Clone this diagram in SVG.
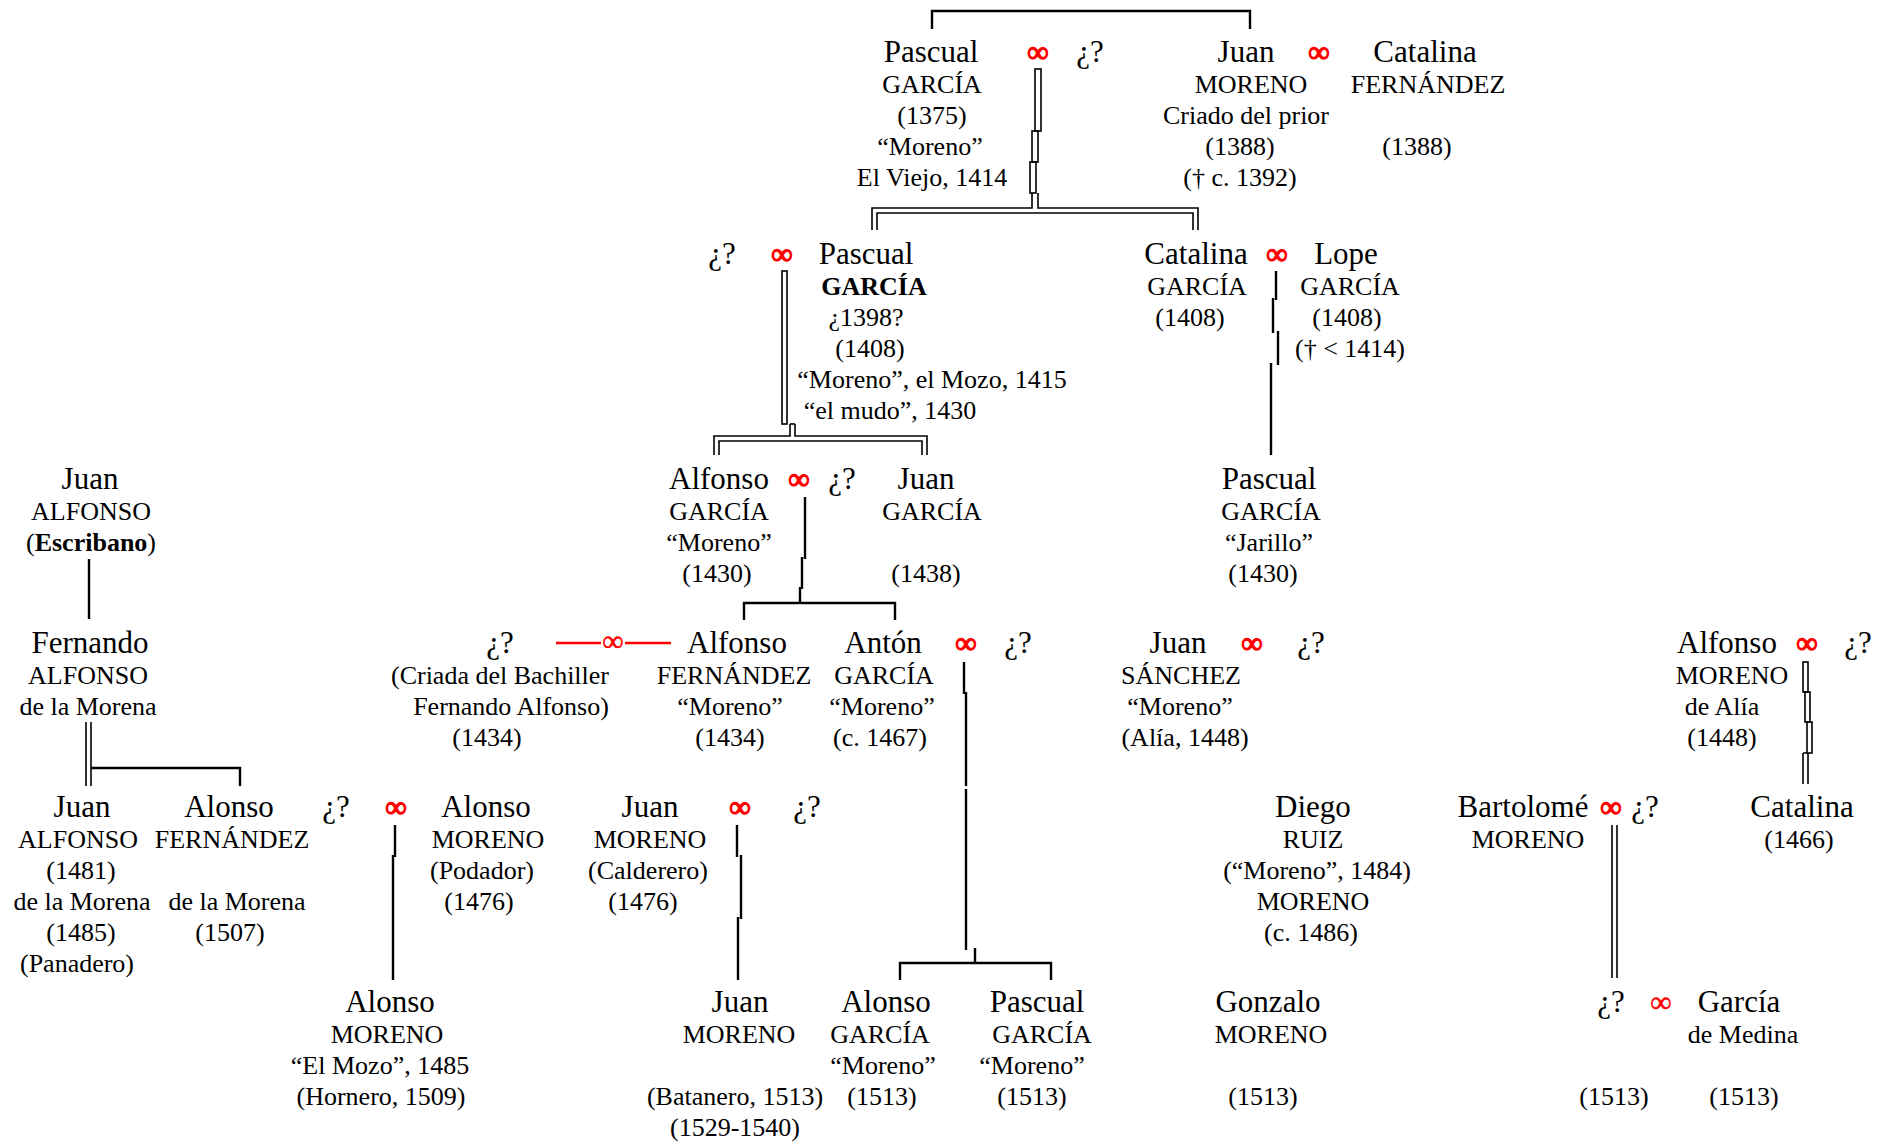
<svg xmlns="http://www.w3.org/2000/svg" width="1886" height="1143" viewBox="0 0 1886 1143">
  <style>
    text { font-family: "Liberation Serif", "Times New Roman", serif; text-anchor: middle; fill: #000; }
    .n { font-size: 31px; }
    .s { font-size: 26px; }
    .b { font-weight: bold; }
    .m { font-size: 30px; fill: #f00; stroke: #f00; stroke-width: 1.3; }
    .mt { font-size: 30px; fill: #f00; stroke: #f00; stroke-width: 0.5; }
    .c { fill: none; stroke: #000; stroke-width: 2.4; }
    .d { fill: none; stroke: #000; stroke-width: 1.6; }
    .r { fill: none; stroke: #f00; stroke-width: 2.6; }
  </style>
  <rect width="1886" height="1143" fill="#fff"/>

  <!-- lines of descent and marriage -->
  <g id="connectors">
    <!-- siblings at the top -->
    <path class="c" d="M932 29 V11 H1250 V29"/>
    <!-- Pascual (1375) descent, double line in offset segments -->
    <rect class="d" x="1035" y="69" width="6" height="62"/>
    <rect class="d" x="1032" y="131" width="6" height="31"/>
    <rect class="d" x="1030" y="162" width="6" height="31"/>
    <path class="d" d="M1032 193 V208 H872 V230"/>
    <path class="d" d="M1038 193 V208 H1198 V230"/>
    <path class="d" d="M877 230 V213 H1193 V230"/>
    <!-- Pascual (1408) descent, double -->
    <rect class="d" x="782" y="271" width="5" height="153"/>
    <path class="d" d="M790 424 V436 H714 V455"/>
    <path class="d" d="M795 424 V436 H927 V455"/>
    <path class="d" d="M790 424 H795"/>
    <path class="d" d="M719 455 V441 H922 V455"/>
    <!-- Catalina and Lope -->
    <path class="c" d="M1276 271 V300 M1273 298 V333 M1278 331 V365 M1271 363 V455"/>
    <!-- Juan Alfonso to Fernando -->
    <path class="c" d="M89 559 V619"/>
    <!-- Alfonso García (1430) -->
    <path class="c" d="M805 497 V559 M802 557 V589 M800 587 V603"/>
    <path class="c" d="M744 620 V603 H895 V620"/>
    <!-- Fernando Alfonso de la Morena -->
    <path class="d" d="M86 722 V786"/>
    <path class="d" d="M91 722 V786"/>
    <path class="c" d="M91 768 H240 V786"/>
    <!-- Criada del Bachiller and Alfonso Fernández -->
    <path class="r" d="M556 643 H601 M625 643 H671"/>
    <!-- Antón García -->
    <path class="c" d="M964 662 V694 M966 692 V786 M966 789 V950 M975 948 V963"/>
    <path class="c" d="M900 980 V963 H1051 V980"/>
    <!-- Alfonso Moreno de Alía -->
    <rect class="d" x="1803" y="662" width="5" height="30"/>
    <rect class="d" x="1805" y="692" width="5" height="30"/>
    <rect class="d" x="1807" y="722" width="5" height="31"/>
    <path class="d" d="M1803 753 V784 M1808 753 V784 M1803 753 H1808"/>
    <!-- Alonso Moreno (Podador) -->
    <path class="c" d="M395 825 V857 M393 855 V980"/>
    <!-- Juan Moreno (Calderero) -->
    <path class="c" d="M737 825 V857 M741 855 V919 M738 917 V980"/>
    <!-- Bartolomé Moreno -->
    <path class="d" d="M1612 825 V978"/>
    <path class="d" d="M1617 825 V978"/>
  </g>

  <!-- marriage marks -->
  <g id="unions">
    <text class="m" x="1038" y="62">∞</text>
    <text class="m" x="1319" y="62">∞</text>
    <text class="m" x="782" y="264">∞</text>
    <text class="m" x="1277" y="264">∞</text>
    <text class="m" x="799" y="489">∞</text>
    <text class="mt" x="613" y="651">∞</text>
    <text class="m" x="966" y="653">∞</text>
    <text class="m" x="1252" y="653">∞</text>
    <text class="m" x="1807" y="653">∞</text>
    <text class="m" x="396" y="817">∞</text>
    <text class="m" x="740" y="817">∞</text>
    <text class="m" x="1611" y="817">∞</text>
    <text class="mt" x="1661" y="1012">∞</text>
  </g>

  <!-- generation 1 -->
  <g id="pascual-garcia-1375">
    <text class="n" x="931" y="62">Pascual</text>
    <text class="s" x="932" y="93">GARCÍA</text>
    <text class="s" x="932" y="124">(1375)</text>
    <text class="s" x="930" y="155">“Moreno”</text>
    <text class="s" x="932" y="186">El Viejo, 1414</text>
  </g>
  <g id="spouse-pascual-1375"><text class="n" x="1090" y="62">¿?</text></g>
  <g id="juan-moreno">
    <text class="n" x="1246" y="62">Juan</text>
    <text class="s" x="1251" y="93">MORENO</text>
    <text class="s" x="1246" y="124">Criado del prior</text>
    <text class="s" x="1240" y="155">(1388)</text>
    <text class="s" x="1240" y="186">(† c. 1392)</text>
  </g>
  <g id="catalina-fernandez">
    <text class="n" x="1425" y="62">Catalina</text>
    <text class="s" x="1428" y="93">FERNÁNDEZ</text>
    <text class="s" x="1417" y="155">(1388)</text>
  </g>

  <!-- generation 2 -->
  <g id="spouse-pascual-1408"><text class="n" x="722" y="264">¿?</text></g>
  <g id="pascual-garcia-1408">
    <text class="n" x="866" y="264">Pascual</text>
    <text class="s b" x="874" y="295">GARCÍA</text>
    <text class="s" x="866" y="326">¿1398?</text>
    <text class="s" x="870" y="357">(1408)</text>
    <text class="s" x="932" y="388">“Moreno”, el Mozo, 1415</text>
    <text class="s" x="890" y="419">“el mudo”, 1430</text>
  </g>
  <g id="catalina-garcia">
    <text class="n" x="1196" y="264">Catalina</text>
    <text class="s" x="1197" y="295">GARCÍA</text>
    <text class="s" x="1190" y="326">(1408)</text>
  </g>
  <g id="lope-garcia">
    <text class="n" x="1346" y="264">Lope</text>
    <text class="s" x="1350" y="295">GARCÍA</text>
    <text class="s" x="1347" y="326">(1408)</text>
    <text class="s" x="1350" y="357">(† &lt; 1414)</text>
  </g>

  <!-- generation 3 -->
  <g id="juan-alfonso-escribano">
    <text class="n" x="90" y="489">Juan</text>
    <text class="s" x="91" y="520">ALFONSO</text>
    <text class="s" x="91" y="551">(<tspan class="b">Escribano</tspan>)</text>
  </g>
  <g id="alfonso-garcia">
    <text class="n" x="719" y="489">Alfonso</text>
    <text class="s" x="719" y="520">GARCÍA</text>
    <text class="s" x="719" y="551">“Moreno”</text>
    <text class="s" x="717" y="582">(1430)</text>
  </g>
  <g id="spouse-alfonso-garcia"><text class="n" x="842" y="489">¿?</text></g>
  <g id="juan-garcia">
    <text class="n" x="926" y="489">Juan</text>
    <text class="s" x="932" y="520">GARCÍA</text>
    <text class="s" x="926" y="582">(1438)</text>
  </g>
  <g id="pascual-garcia-jarillo">
    <text class="n" x="1269" y="489">Pascual</text>
    <text class="s" x="1271" y="520">GARCÍA</text>
    <text class="s" x="1269" y="551">“Jarillo”</text>
    <text class="s" x="1263" y="582">(1430)</text>
  </g>

  <!-- generation 4 -->
  <g id="fernando-alfonso">
    <text class="n" x="90" y="653">Fernando</text>
    <text class="s" x="88" y="684">ALFONSO</text>
    <text class="s" x="88" y="715">de la Morena</text>
  </g>
  <g id="criada-del-bachiller">
    <text class="n" x="500" y="653">¿?</text>
    <text class="s" x="500" y="684">(Criada del Bachiller</text>
    <text class="s" x="511" y="715">Fernando Alfonso)</text>
    <text class="s" x="487" y="746">(1434)</text>
  </g>
  <g id="alfonso-fernandez">
    <text class="n" x="737" y="653">Alfonso</text>
    <text class="s" x="734" y="684">FERNÁNDEZ</text>
    <text class="s" x="730" y="715">“Moreno”</text>
    <text class="s" x="730" y="746">(1434)</text>
  </g>
  <g id="anton-garcia">
    <text class="n" x="883" y="653">Antón</text>
    <text class="s" x="884" y="684">GARCÍA</text>
    <text class="s" x="882" y="715">“Moreno”</text>
    <text class="s" x="880" y="746">(c. 1467)</text>
  </g>
  <g id="spouse-anton"><text class="n" x="1018" y="653">¿?</text></g>
  <g id="juan-sanchez">
    <text class="n" x="1178" y="653">Juan</text>
    <text class="s" x="1181" y="684">SÁNCHEZ</text>
    <text class="s" x="1180" y="715">“Moreno”</text>
    <text class="s" x="1185" y="746">(Alía, 1448)</text>
  </g>
  <g id="spouse-juan-sanchez"><text class="n" x="1311" y="653">¿?</text></g>
  <g id="alfonso-moreno-alia">
    <text class="n" x="1727" y="653">Alfonso</text>
    <text class="s" x="1732" y="684">MORENO</text>
    <text class="s" x="1722" y="715">de Alía</text>
    <text class="s" x="1722" y="746">(1448)</text>
  </g>
  <g id="spouse-alfonso-moreno"><text class="n" x="1858" y="653">¿?</text></g>

  <!-- generation 5 -->
  <g id="juan-alfonso-panadero">
    <text class="n" x="82" y="817">Juan</text>
    <text class="s" x="78" y="848">ALFONSO</text>
    <text class="s" x="81" y="879">(1481)</text>
    <text class="s" x="82" y="910">de la Morena</text>
    <text class="s" x="81" y="941">(1485)</text>
    <text class="s" x="77" y="972">(Panadero)</text>
  </g>
  <g id="alonso-fernandez">
    <text class="n" x="229" y="817">Alonso</text>
    <text class="s" x="232" y="848">FERNÁNDEZ</text>
    <text class="s" x="237" y="910">de la Morena</text>
    <text class="s" x="230" y="941">(1507)</text>
  </g>
  <g id="spouse-alonso-podador"><text class="n" x="336" y="817">¿?</text></g>
  <g id="alonso-moreno-podador">
    <text class="n" x="486" y="817">Alonso</text>
    <text class="s" x="488" y="848">MORENO</text>
    <text class="s" x="482" y="879">(Podador)</text>
    <text class="s" x="479" y="910">(1476)</text>
  </g>
  <g id="juan-moreno-calderero">
    <text class="n" x="650" y="817">Juan</text>
    <text class="s" x="650" y="848">MORENO</text>
    <text class="s" x="648" y="879">(Calderero)</text>
    <text class="s" x="643" y="910">(1476)</text>
  </g>
  <g id="spouse-juan-calderero"><text class="n" x="807" y="817">¿?</text></g>
  <g id="diego-ruiz">
    <text class="n" x="1313" y="817">Diego</text>
    <text class="s" x="1313" y="848">RUIZ</text>
    <text class="s" x="1317" y="879">(“Moreno”, 1484)</text>
    <text class="s" x="1313" y="910">MORENO</text>
    <text class="s" x="1311" y="941">(c. 1486)</text>
  </g>
  <g id="bartolome-moreno">
    <text class="n" x="1523" y="817">Bartolomé</text>
    <text class="s" x="1528" y="848">MORENO</text>
  </g>
  <g id="spouse-bartolome"><text class="n" x="1645" y="817">¿?</text></g>
  <g id="catalina-1466">
    <text class="n" x="1802" y="817">Catalina</text>
    <text class="s" x="1799" y="848">(1466)</text>
  </g>

  <!-- generation 6 -->
  <g id="alonso-moreno-mozo">
    <text class="n" x="390" y="1012">Alonso</text>
    <text class="s" x="387" y="1043">MORENO</text>
    <text class="s" x="380" y="1074">“El Mozo”, 1485</text>
    <text class="s" x="381" y="1105">(Hornero, 1509)</text>
  </g>
  <g id="juan-moreno-batanero">
    <text class="n" x="740" y="1012">Juan</text>
    <text class="s" x="739" y="1043">MORENO</text>
    <text class="s" x="735" y="1105">(Batanero, 1513)</text>
    <text class="s" x="735" y="1136">(1529-1540)</text>
  </g>
  <g id="alonso-garcia">
    <text class="n" x="886" y="1012">Alonso</text>
    <text class="s" x="880" y="1043">GARCÍA</text>
    <text class="s" x="883" y="1074">“Moreno”</text>
    <text class="s" x="882" y="1105">(1513)</text>
  </g>
  <g id="pascual-garcia-1513">
    <text class="n" x="1037" y="1012">Pascual</text>
    <text class="s" x="1042" y="1043">GARCÍA</text>
    <text class="s" x="1032" y="1074">“Moreno”</text>
    <text class="s" x="1032" y="1105">(1513)</text>
  </g>
  <g id="gonzalo-moreno">
    <text class="n" x="1268" y="1012">Gonzalo</text>
    <text class="s" x="1271" y="1043">MORENO</text>
    <text class="s" x="1263" y="1105">(1513)</text>
  </g>
  <g id="child-bartolome">
    <text class="n" x="1611" y="1012">¿?</text>
    <text class="s" x="1614" y="1105">(1513)</text>
  </g>
  <g id="garcia-de-medina">
    <text class="n" x="1739" y="1012">García</text>
    <text class="s" x="1743" y="1043">de Medina</text>
    <text class="s" x="1744" y="1105">(1513)</text>
  </g>
</svg>
